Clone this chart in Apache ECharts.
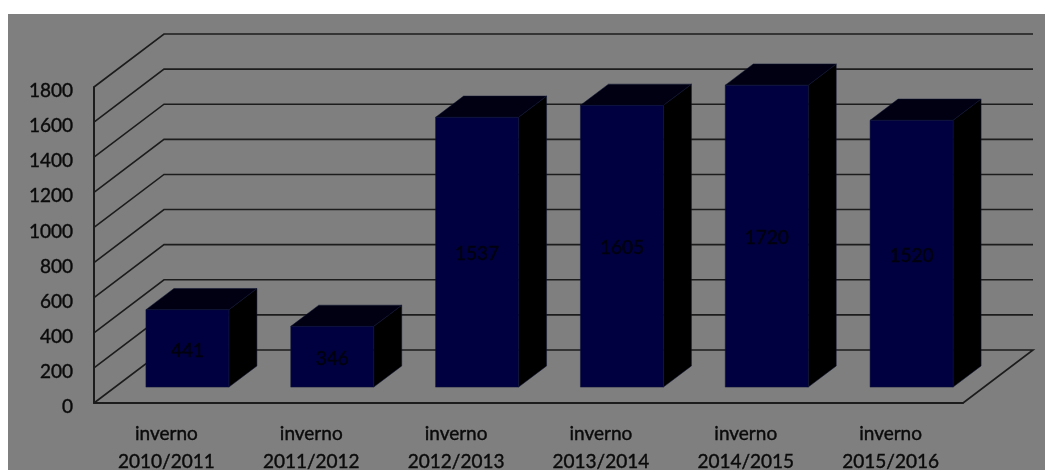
<!DOCTYPE html>
<html>
<head>
<meta charset="utf-8">
<style>html,body{margin:0;padding:0;background:#fff}#c{width:1045px;height:470px;filter:blur(0.45px)}</style>
<script src="https://cdn.jsdelivr.net/npm/echarts@6/dist/echarts.min.js"></script>
</head>
<body>
<div id="c"></div>
<script>
const categories = ['inverno\n2010/2011','inverno\n2011/2012','inverno\n2012/2013','inverno\n2013/2014','inverno\n2014/2015','inverno\n2015/2016'];
const values = [441,346,1537,1605,1720,1520];
const yTicks = [0,200,400,600,800,1000,1200,1400,1600,1800];

const DEPTH_X = 70, DEPTH_Y = -53;
const BAR_FRONT = 0.3, BAR_DEPTH = 0.4, BAR_WIDTH = 0.573;
const FAMILY = 'Lato, "Open Sans", sans-serif';
const FONT = '19px ' + FAMILY;
const LINE = '#1c1c1c';
const TEXT = '#0a0a0a';

function renderWall(params, api) {
  const cs = params.coordSys;
  const v = api.value(0);
  const y = api.coord([0, v])[1];
  const x0 = cs.x, x1 = cs.x + cs.width;
  const pts = [[x0, y], [x0 + DEPTH_X, y + DEPTH_Y], [x1 + DEPTH_X, y + DEPTH_Y]];
  if (v === 0) pts.push([x1, y]);
  return {
    type: 'polyline',
    shape: { points: pts },
    style: { stroke: LINE, lineWidth: 1.6, fill: 'none' }
  };
}

function renderBar(params, api) {
  const i = api.value(0), v = api.value(1);
  const base = api.coord([i, 0]);
  const top = api.coord([i, v]);
  const w = api.size([1, 0])[0] * BAR_WIDTH;
  const fx = BAR_FRONT * DEPTH_X, fy = BAR_FRONT * DEPTH_Y;
  const bx = BAR_DEPTH * DEPTH_X, by = BAR_DEPTH * DEPTH_Y;
  const l = base[0] + fx - w / 2, r = l + w;
  const b = base[1] + fy, t = top[1] + fy;
  const edge = { stroke: '#0e1535', lineWidth: 0.5 };
  return {
    type: 'group',
    children: [
      { type: 'polygon', shape: { points: [[r, b], [r + bx, b + by], [r + bx, t + by], [r, t]] },
        style: Object.assign({ fill: '#000000' }, edge) },
      { type: 'polygon', shape: { points: [[l, t], [l + bx, t + by], [r + bx, t + by], [r, t]] },
        style: Object.assign({ fill: '#000012' }, edge) },
      { type: 'rect', shape: { x: l, y: t, width: w, height: b - t },
        style: Object.assign({ fill: '#000040' }, edge) },
      { type: 'text', style: { text: String(v), x: (l + r) / 2, y: (t + b) / 2 + 2,
        align: 'center', verticalAlign: 'middle', fill: '#00000f', font: FONT,
        stroke: '#00000f', lineWidth: 0.5 } }
    ]
  };
}

const chart = echarts.init(document.getElementById('c'), null, { renderer: 'canvas' });
chart.setOption({
  animation: false,
  backgroundColor: '#ffffff',
  graphic: [{
    type: 'rect', z: -10, silent: true,
    left: 8, top: 14,
    shape: { width: 1037, height: 456 },
    style: { fill: '#7f7f7f' }
  }],
  grid: { left: 94, right: 82, top: 87, bottom: 67, containLabel: false, outerBoundsMode: 'none' },
  xAxis: {
    type: 'category', data: categories, boundaryGap: true,
    axisLine: { show: true, lineStyle: { color: LINE, width: 2 } },
    axisTick: { show: false },
    splitLine: { show: false },
    axisLabel: { interval: 0, margin: 17, lineHeight: 28, fontSize: 19, fontFamily: FAMILY, color: TEXT,
      textBorderColor: TEXT, textBorderWidth: 0.4 }
  },
  yAxis: {
    type: 'value', min: 0, max: 1800, interval: 200,
    axisLine: { show: true, lineStyle: { color: LINE, width: 2 } },
    axisTick: { show: false },
    splitLine: { show: false },
    axisLabel: { margin: 21, fontSize: 19, fontFamily: FAMILY, color: TEXT, verticalAlign: 'top', lineHeight: 8,
      textBorderColor: TEXT, textBorderWidth: 0.4, formatter: v => String(v) }
  },
  series: [
    { type: 'custom', name: 'walls', coordinateSystem: 'cartesian2d', clip: false, z: 1, silent: true,
      encode: { y: 0 }, data: yTicks.map(v => [v]), renderItem: renderWall },
    { type: 'custom', name: 'bars', coordinateSystem: 'cartesian2d', clip: false, z: 3, silent: true,
      encode: { x: 0, y: 1 }, data: values.map((v, i) => [i, v]), renderItem: renderBar }
  ]
});
</script>
</body>
</html>
